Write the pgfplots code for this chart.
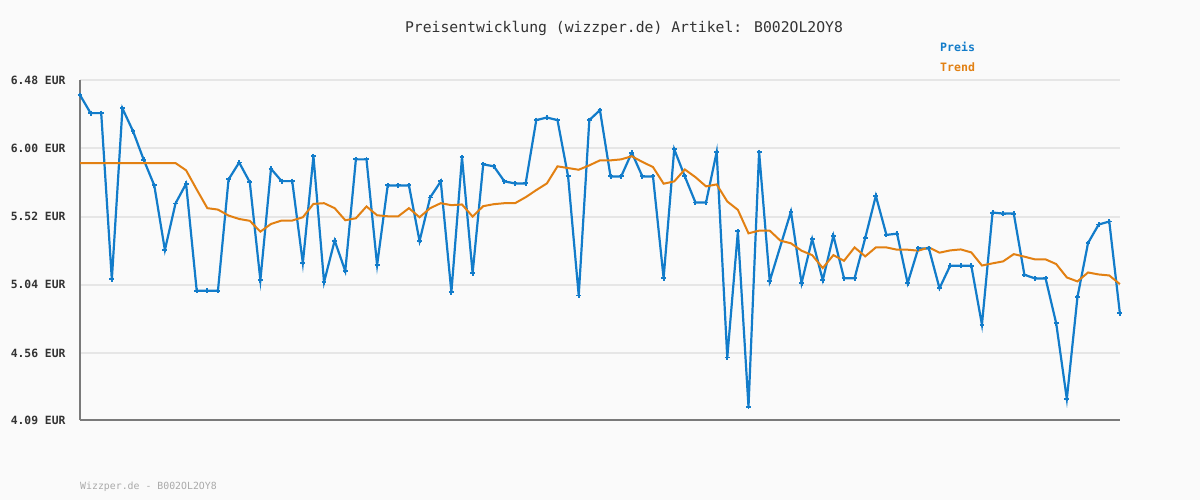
\documentclass[border=0pt]{standalone}
\usepackage{fontspec}
\setmainfont{DejaVu Sans Mono}
\usepackage{pgfplots}
\pgfplotsset{compat=1.18}
\definecolor{preis}{RGB}{18,124,202}
\definecolor{trend}{RGB}{226,128,18}
\definecolor{bg}{RGB}{250,250,250}
\definecolor{gridc}{RGB}{230,230,230}
\definecolor{axc}{RGB}{122,122,122}
\definecolor{txt}{RGB}{51,51,51}
\definecolor{foot}{RGB}{170,170,170}
\begin{document}
\begin{tikzpicture}[x=1bp,y=1bp]
\fill[bg] (0,0) rectangle (1200,500);
\path[use as bounding box] (0,0) rectangle (1200,500);
\begin{axis}[at={(80bp,80bp)}, anchor=south west, scale only axis,
  width=1040bp, height=340bp,
  xmin=0, xmax=98, ymin=4.09, ymax=6.48,
  axis x line*=bottom, axis y line*=left,
  xtick=\empty,
  ytick={4.09,4.56,5.04,5.52,6.00,6.48},
  yticklabels={4.09 EUR,4.56 EUR,5.04 EUR,5.52 EUR,6.00 EUR,6.48 EUR},
  ymajorgrids, grid style={gridc, line width=2bp},
  major tick length=0pt,
  axis line style={axc, line width=2.2bp, -},
  yticklabel style={font=\bfseries\fontsize{11.4}{12}\selectfont, text=txt, xshift=-11bp},
  clip=false]
\addplot[preis, line width=2.2bp, mark=+, mark size=2.4bp, mark options={line width=1.9bp}] coordinates {
(0,6.374)(1,6.247)(2,6.247)(3,5.078)(4,6.28)(5,6.12)(6,5.92)(7,5.739)(8,5.285)(9,5.612)
(10,5.751)(11,4.998)(12,4.998)(13,4.998)(14,5.781)(15,5.90)(16,5.762)(17,5.073)(18,5.856)(19,5.769)
(20,5.769)(21,5.193)(22,5.944)(23,5.059)(24,5.351)(25,5.137)(26,5.922)(27,5.922)(28,5.179)(29,5.739)
(30,5.739)(31,5.739)(32,5.348)(33,5.654)(34,5.767)(35,4.988)(36,5.936)(37,5.122)(38,5.887)(39,5.873)
(40,5.767)(41,5.753)(42,5.753)(43,6.198)(44,6.216)(45,6.198)(46,5.802)(47,4.965)(48,6.198)(49,6.268)
(50,5.802)(51,5.802)(52,5.969)(53,5.802)(54,5.802)(55,5.087)(56,5.993)(57,5.802)(58,5.619)(59,5.619)
(60,5.974)(61,4.529)(62,5.416)(63,4.183)(64,5.974)(65,5.066)(67,5.555)(68,5.052)(69,5.362)
(70,5.073)(71,5.386)(72,5.087)(73,5.087)(74,5.369)(75,5.666)(76,5.391)(77,5.40)(78,5.052)(79,5.296)
(80,5.296)(81,5.016)(82,5.174)(83,5.174)(84,5.174)(85,4.76)(86,5.548)(87,5.541)(88,5.541)(89,5.111)
(90,5.085)(91,5.085)(92,4.769)(93,4.238)(94,4.953)(95,5.334)(96,5.464)(97,5.485)(98,4.84)
};
\addplot[trend, line width=2bp, no marks] coordinates {
(0,5.896)(1,5.896)(2,5.896)(3,5.896)(4,5.896)(5,5.896)(6,5.896)(7,5.896)(8,5.896)(9,5.896)
(10,5.845)(11,5.71)(12,5.579)(13,5.569)(14,5.527)(15,5.503)(16,5.49)(17,5.414)(18,5.468)(19,5.492)
(20,5.492)(21,5.515)(22,5.609)(23,5.614)(24,5.579)(25,5.494)(26,5.508)(27,5.591)(28,5.529)(29,5.522)
(30,5.522)(31,5.579)(32,5.515)(33,5.579)(34,5.614)(35,5.60)(36,5.605)(37,5.52)(38,5.593)(39,5.607)
(40,5.614)(41,5.614)(42,5.656)(43,5.706)(44,5.753)(45,5.873)(46,5.861)(47,5.849)(48,5.88)(49,5.915)
(50,5.915)(51,5.922)(52,5.944)(53,5.904)(54,5.868)(55,5.751)(56,5.767)(57,5.851)(58,5.797)(59,5.732)
(60,5.746)(61,5.626)(62,5.567)(63,5.402)(64,5.421)(65,5.421)(66,5.351)(67,5.332)(68,5.28)(69,5.249)
(70,5.158)(71,5.249)(72,5.209)(73,5.303)(74,5.24)(75,5.303)(76,5.303)(77,5.287)(78,5.287)(79,5.28)
(80,5.303)(81,5.266)(82,5.282)(83,5.289)(84,5.268)(85,5.176)(86,5.191)(87,5.205)(88,5.256)(89,5.238)
(90,5.219)(91,5.219)(92,5.186)(93,5.092)(94,5.064)(95,5.127)(96,5.113)(97,5.106)(98,5.045)
};
\end{axis}
\node[text=txt, font=\fontsize{14.8}{16}\selectfont] at (624,472) {Preisentwicklung (wizzper.de) Artikel: B002OL2OY8};
\node[text=preis, font=\bfseries\fontsize{11.6}{13}\selectfont, anchor=west, inner sep=0pt] at (940,453) {Preis};
\node[text=trend, font=\bfseries\fontsize{11.6}{13}\selectfont, anchor=west, inner sep=0pt] at (940,433) {Trend};
\node[text=foot, font=\fontsize{9.9}{11}\selectfont, anchor=west, inner sep=0pt] at (80,13) {Wizzper.de - B002OL2OY8};
\end{tikzpicture}
\end{document}
